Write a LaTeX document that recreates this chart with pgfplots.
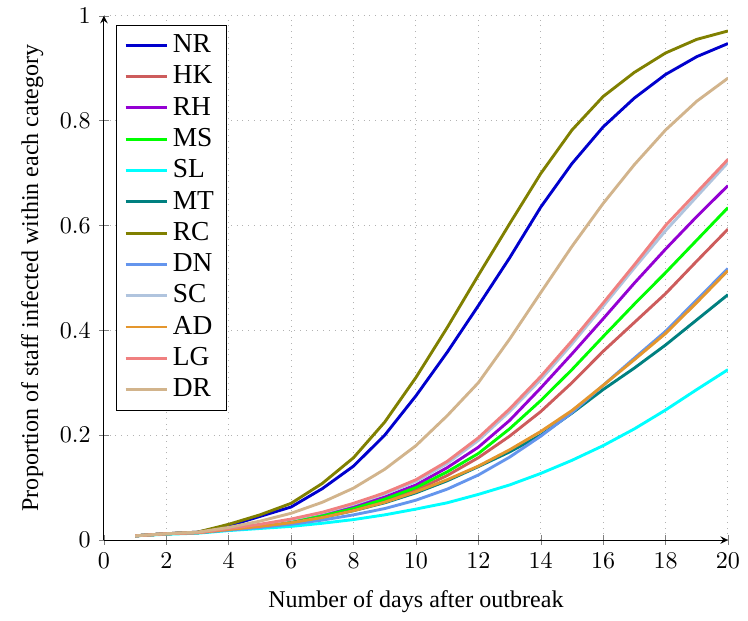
\documentclass[border={5.5pt 0pt 0pt 0pt}]{standalone}
\usepackage[no-math]{fontspec}
\setmainfont{Liberation Serif}
\usepackage{pgfplots}
\pgfplotsset{compat=1.18}
\usepackage{pgfplotstable}
\definecolor{cNR}{RGB}{0,0,205}
\definecolor{cHK}{RGB}{205,92,92}
\definecolor{cRH}{RGB}{148,0,211}
\definecolor{cMS}{RGB}{0,255,0}
\definecolor{cSL}{RGB}{0,255,255}
\definecolor{cMT}{RGB}{0,128,128}
\definecolor{cRC}{RGB}{128,128,0}
\definecolor{cDN}{RGB}{100,149,237}
\definecolor{cSC}{RGB}{176,196,222}
\definecolor{cAD}{RGB}{228,150,45}
\definecolor{cLG}{RGB}{240,128,128}
\definecolor{cDR}{RGB}{210,180,140}
\pgfplotstableread{
x  NR    HK    RH    MS    SL    MT    RC    DN    SC    AD    LG    DR
1  0.008 0.008 0.008 0.008 0.008 0.008 0.008 0.008 0.008 0.008 0.008 0.008
2  0.012 0.012 0.012 0.012 0.011 0.012 0.012 0.012 0.012 0.012 0.012 0.012
3  0.015 0.014 0.014 0.014 0.013 0.014 0.015 0.014 0.014 0.014 0.014 0.015
4  0.027 0.021 0.021 0.021 0.018 0.020 0.030 0.019 0.022 0.020 0.022 0.024
5  0.045 0.027 0.028 0.027 0.022 0.026 0.048 0.024 0.029 0.026 0.030 0.036
6  0.063 0.035 0.037 0.035 0.026 0.033 0.070 0.030 0.039 0.033 0.040 0.051
7  0.098 0.045 0.049 0.046 0.032 0.043 0.108 0.038 0.052 0.043 0.053 0.072
8  0.141 0.058 0.064 0.060 0.039 0.056 0.157 0.048 0.068 0.056 0.070 0.099
9  0.200 0.075 0.082 0.078 0.048 0.071 0.225 0.060 0.088 0.072 0.090 0.135
10 0.275 0.095 0.105 0.100 0.059 0.090 0.310 0.076 0.112 0.092 0.115 0.180
11 0.358 0.123 0.138 0.130 0.071 0.113 0.405 0.097 0.146 0.115 0.150 0.237
12 0.447 0.157 0.177 0.165 0.087 0.140 0.505 0.124 0.190 0.141 0.195 0.300
13 0.538 0.198 0.228 0.212 0.105 0.168 0.603 0.158 0.245 0.172 0.250 0.383
14 0.635 0.245 0.290 0.266 0.127 0.200 0.699 0.198 0.306 0.207 0.312 0.472
15 0.718 0.300 0.355 0.325 0.152 0.242 0.782 0.243 0.374 0.247 0.380 0.560
16 0.788 0.360 0.422 0.388 0.180 0.287 0.846 0.295 0.446 0.295 0.452 0.642
17 0.843 0.415 0.490 0.450 0.212 0.328 0.892 0.347 0.519 0.344 0.525 0.716
18 0.888 0.470 0.555 0.510 0.248 0.372 0.929 0.398 0.590 0.394 0.600 0.782
19 0.922 0.532 0.617 0.572 0.287 0.420 0.955 0.458 0.655 0.453 0.663 0.837
20 0.947 0.593 0.676 0.634 0.325 0.468 0.971 0.518 0.720 0.514 0.726 0.881
}\datatable
\begin{document}
\begin{tikzpicture}
\begin{axis}[
  scale only axis,
  width=259.5pt, height=218pt,
  xmin=0, xmax=20, ymin=0, ymax=1,
  axis lines=left,
  axis line style={-stealth},
  xtick={0,2,...,20},
  ytick={0,0.2,0.4,0.6,0.8,1},
  major tick length=4pt,
  tick align=center,
  xmajorgrids, ymajorgrids,
  major grid style={dotted, gray!60},
  xlabel={Number of days after outbreak},
  xlabel style={yshift=-2pt},
  ylabel={Proportion of staff infected within each category},
  legend style={at={(0.02,0.983)}, anchor=north west, draw=black, fill=white, font=\fontsize{11.4}{13.7}\selectfont},
  legend cell align=left,
  every axis plot/.append style={line width=1.2pt},
]
\addplot[cNR] table[x=x,y=NR]{\datatable}; \addlegendentry{NR}
\addplot[cHK] table[x=x,y=HK]{\datatable}; \addlegendentry{HK}
\addplot[cRH] table[x=x,y=RH]{\datatable}; \addlegendentry{RH}
\addplot[cMS] table[x=x,y=MS]{\datatable}; \addlegendentry{MS}
\addplot[cSL] table[x=x,y=SL]{\datatable}; \addlegendentry{SL}
\addplot[cMT] table[x=x,y=MT]{\datatable}; \addlegendentry{MT}
\addplot[cRC] table[x=x,y=RC]{\datatable}; \addlegendentry{RC}
\addplot[cDN] table[x=x,y=DN]{\datatable}; \addlegendentry{DN}
\addplot[cSC] table[x=x,y=SC]{\datatable}; \addlegendentry{SC}
\addplot[cAD] table[x=x,y=AD]{\datatable}; \addlegendentry{AD}
\addplot[cLG] table[x=x,y=LG]{\datatable}; \addlegendentry{LG}
\addplot[cDR] table[x=x,y=DR]{\datatable}; \addlegendentry{DR}
\end{axis}
\end{tikzpicture}
\end{document}
